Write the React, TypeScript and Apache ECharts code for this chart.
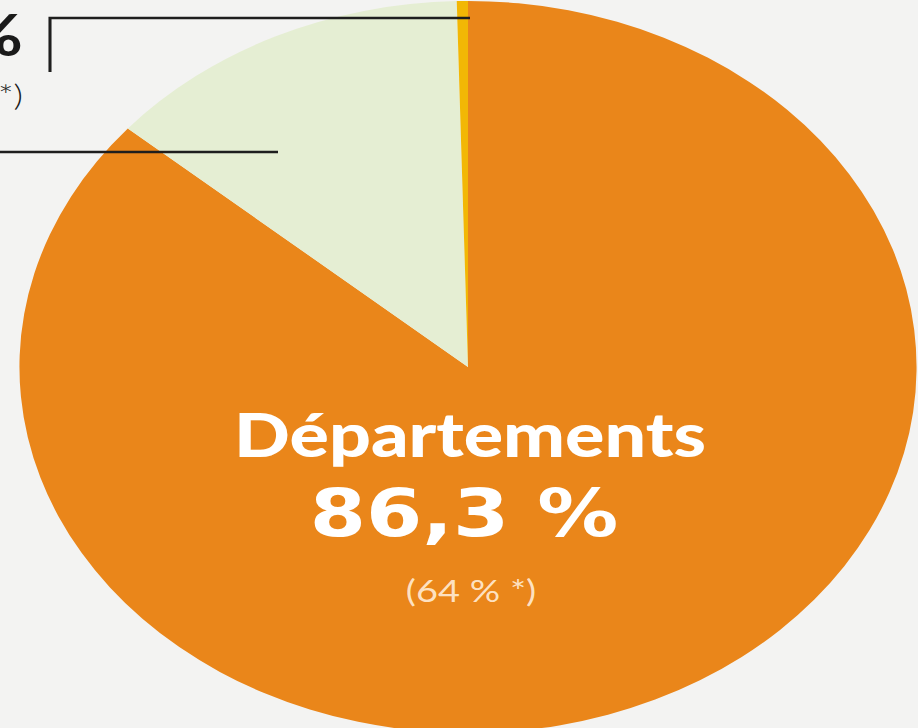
import React, { useEffect, useRef } from "react";
import * as echarts from "echarts";

// Data
const sliceNames = ["Départements", "Autres", "Divers"];
const sliceValues = [86.3, 13.3, 0.4];
const sliceColors = ["#EA861A", "#E5EED3", "#F2B705"];
const mainLabel = "Départements";
const mainValue = "86,3 %";
const mainCompare = "(64 % *)";
const topLabelValue = "0,4 %";
const topLabelCompare = "(3 %*)";

const PAGE_W = 918;
const PAGE_H = 728;
const K = 451 / 368; // horizontal stretch (the pie is an ellipse)
const CHART_W = PAGE_W / K;

const px = (x: number) => x / K; // page x -> chart x

export default function App() {
  const ref = useRef<HTMLDivElement>(null);
  useEffect(() => {
    if (!ref.current) return;
    const chart = echarts.init(ref.current, undefined, { renderer: "svg" });
    chart.setOption({
      animation: false,
      backgroundColor: "transparent",
      series: [
        {
          type: "pie",
          center: [px(468), 367],
          radius: 366,
          startAngle: 90,
          clockwise: true,
          silent: true,
          label: { show: false },
          labelLine: { show: false },
          itemStyle: { borderWidth: 0 },
          data: sliceNames.map((n, i) => ({
            name: n,
            value: sliceValues[i],
            itemStyle: { color: sliceColors[i] },
          })),
        },
      ],
      graphic: [
        {
          type: "polyline",
          shape: { points: [[px(50), 72], [px(50), 18], [px(470), 18]] },
          style: { stroke: "#1e1e1e", lineWidth: 2.5, fill: null },
          z: 10,
        },
        {
          type: "line",
          shape: { x1: 0, y1: 152, x2: px(278), y2: 152 },
          style: { stroke: "#1e1e1e", lineWidth: 2.5 },
          z: 10,
        },
        {
          type: "text",
          x: px(23),
          y: 34,
          style: {
            text: topLabelValue,
            fill: "#1a1a1a",
            font: "bold 58px Lato",
            textAlign: "right",
            textVerticalAlign: "middle",
          },
          z: 10,
        },
        {
          type: "text",
          x: px(23),
          y: 94,
          style: {
            text: topLabelCompare,
            fill: "#1a1a1a",
            font: "300 30px Lato",
            textAlign: "right",
            textVerticalAlign: "middle",
          },
          z: 10,
        },
        {
          type: "text",
          x: px(470),
          y: 434,
          style: {
            text: mainLabel,
            fill: "#ffffff",
            font: "900 60px Lato",
            textAlign: "center",
            textVerticalAlign: "middle",
          },
          z: 10,
        },
        {
          type: "text",
          x: px(464),
          y: 513,
          style: {
            text: mainValue,
            fill: "#ffffff",
            font: "bold 66px 'DejaVu Sans'",
            textAlign: "center",
            textVerticalAlign: "middle",
          },
          z: 10,
        },
        {
          type: "text",
          x: px(471),
          y: 590,
          style: {
            text: mainCompare,
            fill: "rgba(255,232,205,0.95)",
            font: "400 31px Lato",
            textAlign: "center",
            textVerticalAlign: "middle",
          },
          z: 10,
        },
      ],
    });
    return () => chart.dispose();
  }, []);

  return (
    <div
      style={{
        position: "fixed",
        left: 0,
        top: 0,
        width: PAGE_W,
        height: PAGE_H,
        overflow: "hidden",
        background: "#f3f3f2",
      }}
    >
      <div
        ref={ref}
        style={{
          width: CHART_W,
          height: PAGE_H,
          transform: `scaleX(${K})`,
          transformOrigin: "0 0",
        }}
      />
    </div>
  );
}
